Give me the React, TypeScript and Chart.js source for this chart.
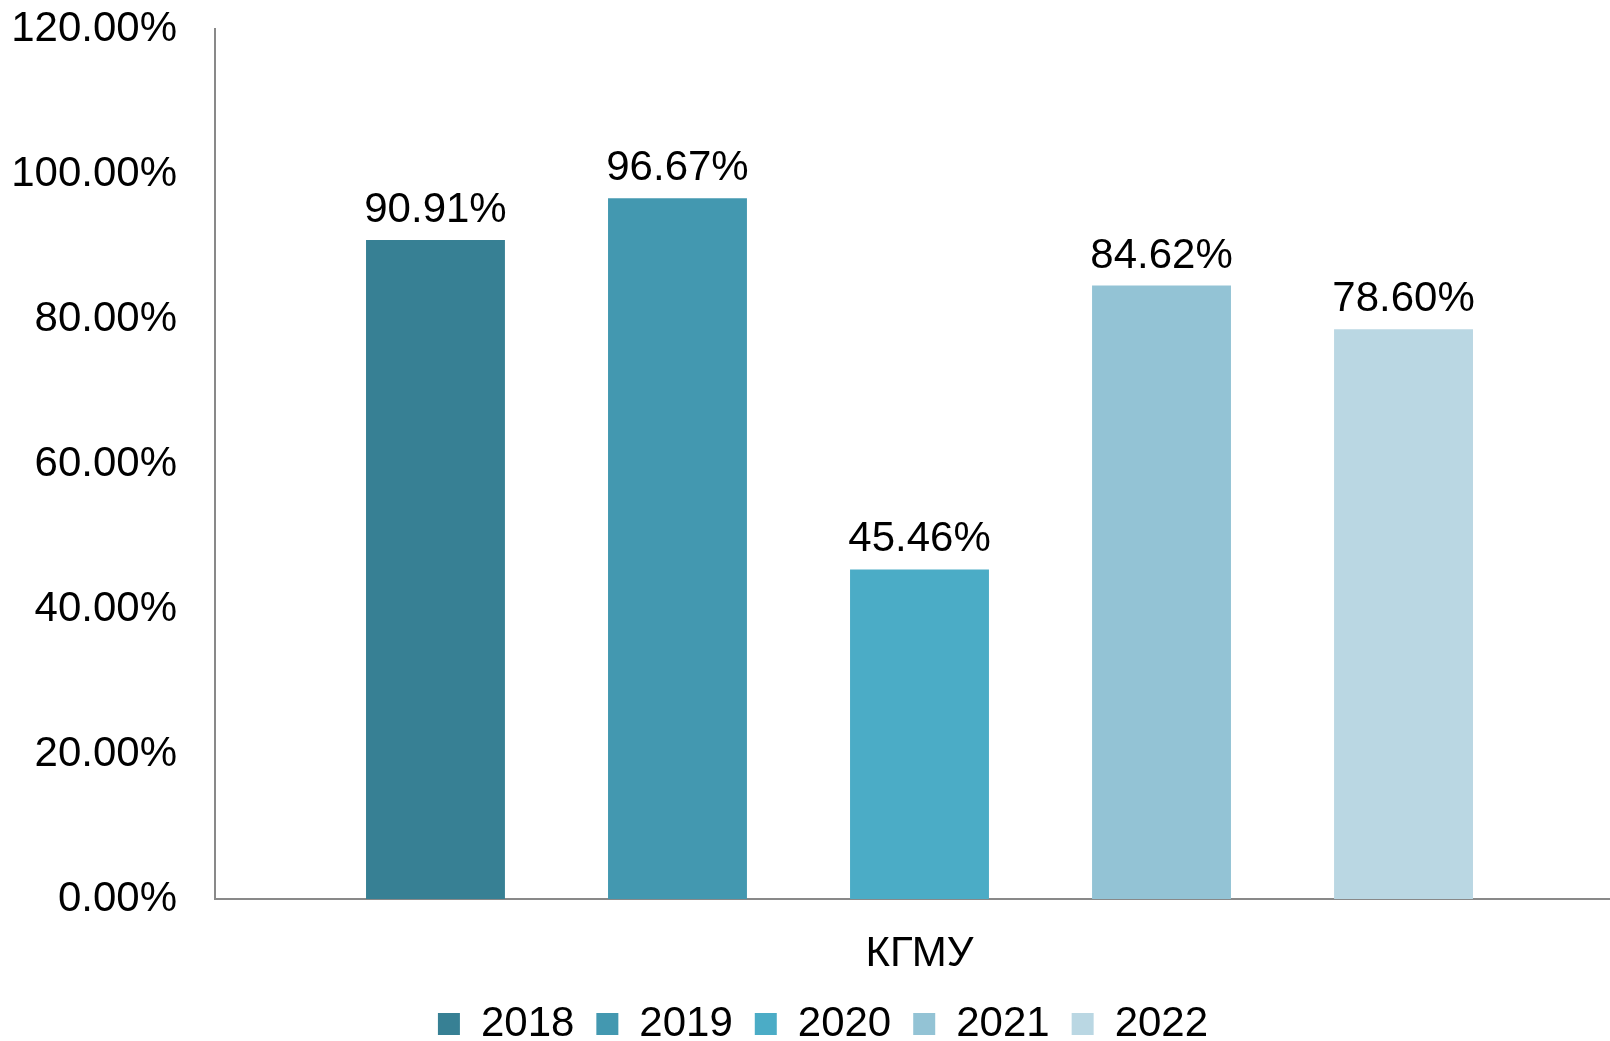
import React, { useEffect, useRef } from "react";
import { Chart, registerables } from "chart.js";

Chart.register(...registerables);

const categories = ["КГМУ"];
const seriesNames = ["2018", "2019", "2020", "2021", "2022"];
const seriesValues = [[90.91], [96.67], [45.46], [84.62], [78.6]];
const seriesColors = ["#378094", "#4398B0", "#4BACC6", "#93C3D5", "#BAD7E3"];
const yTicks = [0, 20, 40, 60, 80, 100, 120];

const FONT = "'Liberation Sans', Arial, sans-serif";

const valueLabels = {
  id: "valueLabels",
  afterDatasetsDraw(chart: any) {
    const ctx = chart.ctx;
    ctx.save();
    ctx.font = `42px ${FONT}`;
    ctx.fillStyle = "#000000";
    ctx.textAlign = "center";
    ctx.textBaseline = "alphabetic";
    chart.data.datasets.forEach((ds: any, i: number) => {
      const meta = chart.getDatasetMeta(i);
      meta.data.forEach((el: any, j: number) => {
        const v = ds.data[j] as number;
        ctx.fillText(v.toFixed(2) + "%", el.x, el.y - 18);
      });
    });
    ctx.restore();
  },
};

const legendShift = {
  id: "legendShift",
  afterLayout(chart: any) {
    if (chart.legend) {
      chart.legend.left += 11;
      chart.legend.right += 11;
    }
  },
};

export default function App() {
  const ref = useRef<HTMLCanvasElement | null>(null);
  useEffect(() => {
    document.body.style.margin = "0";
    if (!ref.current) return;
    const chart = new Chart(ref.current, {
      type: "bar",
      data: {
        labels: categories,
        datasets: seriesNames.map((name, i) => ({
          label: name,
          data: seriesValues[i],
          backgroundColor: seriesColors[i],
          borderWidth: 0,
          barPercentage: 0.574,
          categoryPercentage: 0.8588,
        })),
      },
      options: {
        animation: false,
        responsive: false,
        maintainAspectRatio: false,
        layout: { padding: { top: 0, left: 0, right: 0, bottom: -14 } },
        plugins: {
          tooltip: { enabled: false },
          legend: {
            position: "bottom",
            labels: {
              boxWidth: 22,
              boxHeight: 22,
              padding: 22,
              color: "#000000",
              font: { family: FONT, size: 42 },
            },
          },
        },
        scales: {
          x: {
            grid: { display: false, drawTicks: false },
            border: { display: true, color: "#898989", width: 2 },
            ticks: { color: "#000000", font: { family: FONT, size: 42 }, padding: 30 },
            afterFit(scale: any) {
              scale.height = 82;
            },
          },
          y: {
            min: 0,
            max: 120,
            grid: { display: false, drawTicks: false },
            border: { display: true, color: "#898989", width: 2 },
            afterBuildTicks(scale: any) {
              scale.ticks = yTicks.map((v) => ({ value: v }));
            },
            ticks: {
              color: "#000000",
              font: { family: FONT, size: 42 },
              padding: 38,
              callback: (v: any) => Number(v).toFixed(2) + "%",
            },
            afterFit(scale: any) {
              scale.width = 215;
              scale.paddingTop = 29;
              scale.paddingBottom = 0;
            },
          },
        },
      },
      plugins: [valueLabels, legendShift],
    });
    return () => chart.destroy();
  }, []);
  return (
    <div style={{ width: 1610, height: 1041, overflow: "hidden", background: "#ffffff" }}>
      <canvas ref={ref} width={1624} height={1041} style={{ display: "block", width: 1624, height: 1041 }} />
    </div>
  );
}
